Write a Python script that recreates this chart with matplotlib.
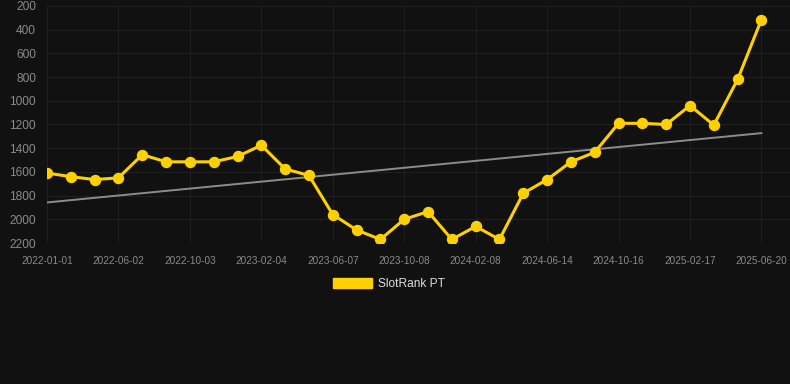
import matplotlib
matplotlib.use("Agg")
import matplotlib.pyplot as plt
import numpy as np
from matplotlib.patches import Patch

plt.rcParams['font.family'] = ['Liberation Sans', 'DejaVu Sans']

# SlotRank PT position over time (lower is better, axis inverted)
rank = [1610, 1640, 1665, 1650, 1455, 1515, 1515, 1515, 1470, 1375,
        1575, 1630, 1960, 2090, 2170, 2000, 1935, 2170, 2060, 2170,
        1780, 1665, 1515, 1435, 1190, 1190, 1200, 1040, 1205, 820, 315]
tick_labels = ['2022-01-01', '2022-06-02', '2022-10-03', '2023-02-04',
               '2023-06-07', '2023-10-08', '2024-02-08', '2024-06-14',
               '2024-10-16', '2025-02-17', '2025-06-20']
y_ticks = [200, 400, 600, 800, 1000, 1200, 1400, 1600, 1800, 2000, 2200]

bg = '#111111'
yellow = '#ffd000'

fig = plt.figure(figsize=(7.9, 3.84), dpi=100, facecolor=bg)
ax = fig.add_axes([47 / 790, 1 - 243 / 384, 743 / 790, 237 / 384])
ax.set_facecolor(bg)

x = np.arange(len(rank))

# linear trend line
coef = np.polyfit(x, rank, 1)
ax.plot(x, np.polyval(coef, x), color='#8c8c8c', linewidth=1.4, zorder=2)

ax.plot(x, rank, color=yellow, linewidth=2.2, marker='o', markersize=7.2,
        markerfacecolor=yellow, markeredgecolor=yellow, zorder=3)

ax.set_xlim(0, 31.2)
ax.set_ylim(2200, 200)
ax.set_yticks(y_ticks)
ax.set_xticks(x[::3])
ax.set_xticklabels(tick_labels)

ax.grid(True, color='#1f1f1f', linewidth=0.75)
ax.set_axisbelow(True)
for s in ax.spines.values():
    s.set_visible(False)
ax.tick_params(axis='both', length=0, colors='#8a8a8a')
ax.tick_params(axis='y', labelsize=8.6, pad=8)
ax.tick_params(axis='x', labelsize=7.2, pad=9)

handle = Patch(facecolor=yellow, edgecolor=yellow)
fig.legend([handle], ['SlotRank PT'], loc='center',
           bbox_to_anchor=(389 / 790, 1 - 284 / 384), frameon=False,
           fontsize=8.6, labelcolor='#dddddd', handlelength=3.33,
           handleheight=0.92, handletextpad=0.5)

plt.savefig('out.png', dpi=100, facecolor=bg)
plt.close()
